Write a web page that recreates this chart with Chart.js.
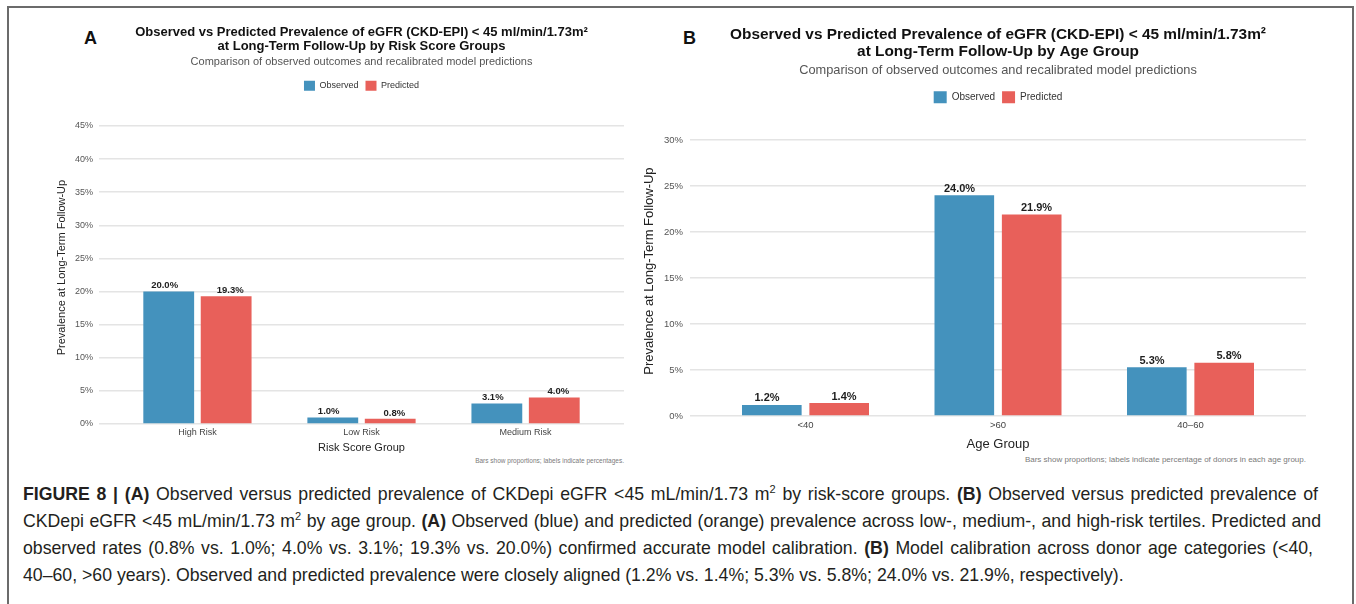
<!DOCTYPE html>
<html lang="en">
<head>
<meta charset="UTF-8">
<meta name="viewport" content="width=device-width, initial-scale=1.0">
<title>Figure 8 - observed vs predicted prevalence</title>
<style>
  body {
    margin: 0;
    width: 1356px;
    height: 604px;
    overflow: hidden;
    background: #fff;
    position: relative;
    font-family: "Liberation Sans", Arial, sans-serif;
  }
  .frame {
    position: absolute;
    left: 7px;
    top: 6px;
    width: 1347px;
    height: 640px;
    border: 2px solid #6b6b6b;
    border-bottom: none;
    box-sizing: border-box;
  }
  .panel { position: absolute; top: 0; }
  #panelA { left: 40px; width: 600px; height: 457px; }
  #panelB { left: 640px; width: 700px; height: 454px; }
  .letter {
    position: absolute;
    top: 29px;
    font-size: 18px;
    line-height: 18px;
    font-weight: bold;
    color: #111;
  }
  .note {
    position: absolute;
    color: #7a7a7a;
    white-space: nowrap;
    text-align: right;
  }
  .caption {
    position: absolute;
    left: 23px;
    top: 481px;
    width: 1320px;
    font-size: 17.7px;
    line-height: 27px;
    color: #231f20;
  }
  .caption .cl { text-align: justify; text-align-last: justify; }
  .caption sup { font-size: 11px; line-height: 0; vertical-align: 7px; }
</style>
<script src="https://cdn.jsdelivr.net/npm/chart.js"></script>
</head>
<body>
  <div class="frame"></div>

  <div class="letter" style="left:84px">A</div>
  <div class="letter" style="left:683px">B</div>

  <div class="panel" id="panelA"><canvas id="chartA"></canvas></div>
  <div class="panel" id="panelB"><canvas id="chartB"></canvas></div>

  <div class="note" style="right:732px; top:457px; font-size:6.5px; line-height:8px">Bars show proportions; labels indicate percentages.</div>
  <div class="note" style="right:50px; top:455px; font-size:8px; line-height:9px">Bars show proportions; labels indicate percentage of donors in each age group.</div>

  <div class="caption">
    <div class="cl" style="width:1295px"><b>FIGURE 8 | (A)</b> Observed versus predicted prevalence of CKDepi eGFR &lt;45 mL/min/1.73 m<sup>2</sup> by risk-score groups. <b>(B)</b> Observed versus predicted prevalence of</div>
    <div class="cl" style="width:1298px">CKDepi eGFR &lt;45 mL/min/1.73 m<sup>2</sup> by age group. <b>(A)</b> Observed (blue) and predicted (orange) prevalence across low-, medium-, and high-risk tertiles. Predicted and</div>
    <div class="cl" style="width:1290px">observed rates (0.8% vs. 1.0%; 4.0% vs. 3.1%; 19.3% vs. 20.0%) confirmed accurate model calibration. <b>(B)</b> Model calibration across donor age categories (&lt;40,</div>
    <div>40–60, &gt;60 years). Observed and predicted prevalence were closely aligned (1.2% vs. 1.4%; 5.3% vs. 5.8%; 24.0% vs. 21.9%, respectively).</div>
  </div>

  <script>
    // Panel A - risk score groups
    const riskGroups = ['High Risk', 'Low Risk', 'Medium Risk'];
    const riskObserved = [20.0, 1.0, 3.1];
    const riskPredicted = [19.3, 0.8, 4.0];
    const riskTicks = [0, 5, 10, 15, 20, 25, 30, 35, 40, 45];

    // Panel B - age groups
    const ageGroups = ['<40', '>60', '40–60'];
    const ageObserved = [1.2, 24.0, 5.3];
    const agePredicted = [1.4, 21.9, 5.8];
    const ageTicks = [0, 5, 10, 15, 20, 25, 30];

    const seriesNames = ['Observed', 'Predicted'];
    const BLUE = '#4492bd';
    const RED = '#e8605a';

    Chart.defaults.font.family = '"Liberation Sans", Arial, sans-serif';

    // percentage labels above the bars; text is dodged a little wider than the bars
    const barLabels = {
      id: 'barLabels',
      afterDatasetsDraw(chart, args, opts) {
        const ctx = chart.ctx;
        const xScale = chart.scales.x;
        const n = chart.data.datasets.length;
        ctx.save();
        ctx.font = 'bold ' + opts.size + 'px "Liberation Sans", Arial, sans-serif';
        ctx.fillStyle = '#1e1e1e';
        ctx.textAlign = 'center';
        ctx.textBaseline = 'bottom';
        chart.data.datasets.forEach((ds, i) => {
          const shift = (i - (n - 1) / 2) * opts.dodge;
          chart.getDatasetMeta(i).data.forEach((bar, j) => {
            const x = xScale.getPixelForValue(ds.data[j].x + shift);
            ctx.fillText(ds.data[j].y.toFixed(1) + '%', x, bar.y - 1);
          });
        });
        ctx.restore();
      }
    };

    function buildChart(id, groups, observed, predicted, yTicks, s) {
      const toPoints = vals => vals.map((v, i) => ({ x: i + 1, y: v }));
      const barOpts = { categoryPercentage: 0.7, barPercentage: 0.885, borderWidth: 0, xAxisID: 'x', yAxisID: 'y' };

      return new Chart(document.getElementById(id), {
        type: 'bar',
        data: {
          datasets: [
            Object.assign({ label: seriesNames[0], data: toPoints(observed), backgroundColor: BLUE }, barOpts),
            Object.assign({ label: seriesNames[1], data: toPoints(predicted), backgroundColor: RED }, barOpts)
          ]
        },
        options: {
          responsive: true,
          maintainAspectRatio: false,
          animation: false,
          layout: { padding: { right: s.padRight } },
          scales: {
            x: {
              type: 'linear',
              position: 'bottom',
              offset: false,
              min: 0.4,
              max: groups.length + 0.6,
              grid: { display: false, drawTicks: false, offset: false },
              border: { display: false },
              afterBuildTicks: axis => { axis.ticks = groups.map((g, i) => ({ value: i + 1 })); },
              ticks: {
                padding: s.xTickPad,
                color: '#444',
                font: { size: s.tick },
                callback: v => groups[v - 1]
              },
              title: {
                display: true,
                text: s.xTitle,
                color: '#222',
                font: { size: s.axisTitle },
                padding: { top: s.xTitlePad, bottom: 2 }
              }
            },
            // empty band between legend and plot panel
            pad: {
              type: 'linear',
              position: 'top',
              grid: { display: false, drawTicks: false },
              border: { display: false },
              ticks: { display: false },
              afterFit: axis => { axis.height = s.gap; }
            },
            y: {
              min: 0,
              max: s.yMax,
              afterBuildTicks: axis => { axis.ticks = yTicks.map(v => ({ value: v })); },
              afterFit: axis => { axis.width = s.yWidth; },
              grid: { color: '#e4e4e4', lineWidth: 1.5, drawTicks: false },
              border: { display: false },
              ticks: {
                padding: s.yTickPad,
                color: '#555',
                font: { size: s.tick },
                callback: v => v + '%'
              },
              title: {
                display: true,
                text: 'Prevalence at Long-Term Follow-Up',
                color: '#222',
                font: { size: s.axisTitle },
                padding: { top: s.yTitlePad, bottom: 0 }
              }
            }
          },
          plugins: {
            title: {
              display: true,
              fullSize: false,
              text: s.title,
              color: '#111',
              font: { size: s.titleSize, weight: 'bold', lineHeight: s.titleLH },
              padding: { top: s.titleTop, bottom: s.titleBottom }
            },
            subtitle: {
              display: true,
              fullSize: false,
              text: 'Comparison of observed outcomes and recalibrated model predictions',
              color: '#555',
              font: { size: s.subSize, lineHeight: 1.2 },
              padding: { top: 0, bottom: s.subBottom }
            },
            legend: {
              fullSize: false,
              labels: {
                boxWidth: s.boxW,
                boxHeight: s.boxH,
                padding: 7,
                color: '#333',
                font: { size: s.legendSize }
              }
            },
            tooltip: { enabled: false },
            barLabels: { size: s.valueSize, dodge: 0.4 }
          }
        },
        plugins: [barLabels]
      });
    }

    buildChart('chartA', riskGroups, riskObserved, riskPredicted, riskTicks, {
      title: ['Observed vs Predicted Prevalence of eGFR (CKD-EPI) < 45 ml/min/1.73m²',
              'at Long-Term Follow-Up by Risk Score Groups'],
      titleSize: 13, titleLH: 1.077, titleTop: 25.5, titleBottom: 1.4,
      subSize: 11, subBottom: 5.6,
      legendSize: 9, boxW: 11, boxH: 10,
      gap: 10.4,
      tick: 9, xTickPad: 3, axisTitle: 11, xTitle: 'Risk Score Group', xTitlePad: 1,
      yMax: 47.25, yWidth: 59, yTickPad: 6, yTitlePad: 15.4,
      valueSize: 9.5, padRight: 16
    });

    buildChart('chartB', ageGroups, ageObserved, agePredicted, ageTicks, {
      title: ['Observed vs Predicted Prevalence of eGFR (CKD-EPI) < 45 ml/min/1.73m²',
              'at Long-Term Follow-Up by Age Group'],
      titleSize: 15.4, titleLH: 1.104, titleTop: 25.8, titleBottom: 2.5,
      subSize: 12.8, subBottom: 6.6,
      legendSize: 10, boxW: 13, boxH: 12,
      gap: 12.9,
      tick: 9.5, xTickPad: 4, axisTitle: 13, xTitle: 'Age Group', xTitlePad: 1,
      yMax: 31.5, yWidth: 50, yTickPad: 7, yTitlePad: 1.2,
      valueSize: 11, padRight: 34
    });
  </script>
</body>
</html>
